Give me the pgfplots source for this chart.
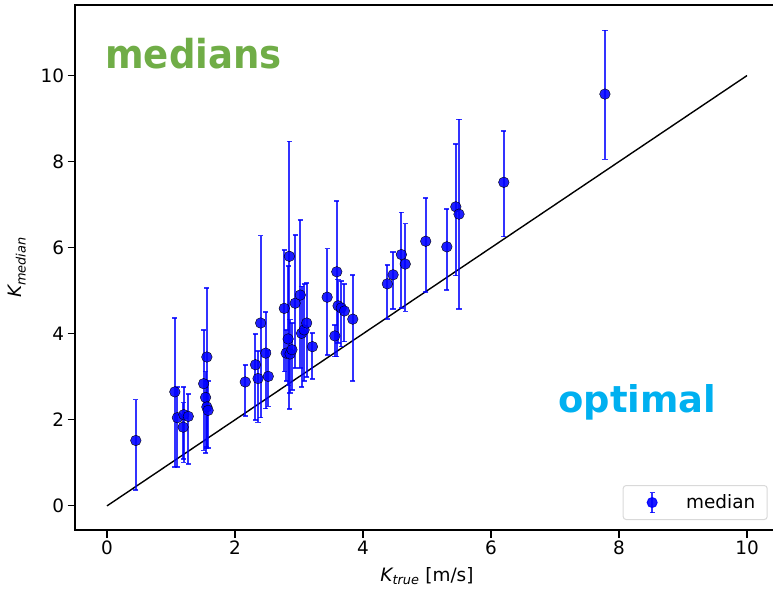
\documentclass[border=0pt]{standalone}
\usepackage{pgfplots}
\pgfplotsset{compat=1.18}
\usepackage{pgfplotstable}
\usepackage{fontspec}
\setmainfont{DejaVu Sans}
\newfontfamily\annfont{DejaVu Sans}[BoldFont={DejaVu Sans Bold}]
\newfontfamily\condfont{DejaVu Sans}[BoldFont={DejaVu Sans Bold}, BoldFeatures={FakeStretch=0.93}]
\definecolor{medgreen}{HTML}{70AD47}
\definecolor{optcyan}{HTML}{00B0F0}
\definecolor{mplblue}{RGB}{0,0,255}

\pgfplotstableread{
x y ep em
0.45 1.52 0.95 1.15
1.06 2.65 1.72 1.74
1.10 2.05 0.71 1.15
1.19 1.83 0.57 0.74
1.20 2.12 0.64 1.11
1.27 2.08 0.52 1.10
1.51 2.84 1.25 1.55
1.54 2.52 0.60 1.29
1.56 3.46 1.60 2.13
1.56 2.30 0.60 0.93
1.58 2.22 0.68 0.87
2.16 2.88 0.40 0.79
2.32 3.28 0.72 1.28
2.36 2.96 0.64 1.02
2.40 4.25 2.03 2.20
2.48 3.55 0.95 1.29
2.52 3.01 0.60 0.70
2.77 4.59 1.36 1.47
2.85 5.80 2.67 3.55
2.83 3.88 1.69 1.08
2.80 3.55 0.54 0.65
2.86 3.53 0.80 0.90
2.89 3.63 0.62 0.93
2.94 4.71 1.59 1.50
3.02 4.90 1.75 1.70
3.04 4.01 1.09 1.25
3.08 4.09 1.07 1.19
3.12 4.25 0.93 1.25
3.21 3.70 0.32 0.75
3.44 4.85 1.13 1.34
3.56 3.95 0.25 0.48
3.59 5.44 1.64 1.97
3.61 4.65 0.61 0.87
3.66 4.60 0.62 0.90
3.71 4.53 0.63 0.71
3.84 4.34 1.03 1.44
4.38 5.16 0.44 0.82
4.47 5.37 0.53 0.79
4.60 5.84 0.98 1.24
4.66 5.62 0.94 1.10
4.98 6.15 1.01 1.18
5.31 6.02 0.88 1.00
5.45 6.95 1.46 1.60
5.50 6.78 2.20 2.21
6.20 7.52 1.19 1.26
7.78 9.57 1.48 1.52
}\data

\begin{document}
\begin{tikzpicture}
\begin{axis}[
  scale only axis,
  width=704bp, height=525bp,
  xmin=-0.5, xmax=10.5,
  ymin=-0.56, ymax=11.64,
  xtick={0,2,4,6,8,10},
  ytick={0,2,4,6,8,10},
  xtick pos=bottom, ytick pos=left,
  tick align=outside,
  major tick length=7.5bp,
  every tick/.style={black, line width=1.1bp},
  axis line style={black, line width=1.3bp},
  /pgf/number format/assume math mode=true,
  tick label style={font=\fontsize{18.5}{22}\selectfont},
  label style={font=\fontsize{18.5}{22}\selectfont},
  xlabel={{\itshape K}\textsubscript{\itshape true} [m/s]},
  ylabel={{\itshape K}\textsubscript{\itshape median}},
  xlabel style={yshift=-6bp},
  ylabel style={yshift=8bp},
  legend style={
    at={(0.984,0.019)}, anchor=south east,
    draw=black!15, line width=1bp, rounded corners=3bp,
    font=\fontsize{18.5}{22}\selectfont,
    inner xsep=0bp, inner ysep=0bp,
    cells={anchor=west},
  },
  legend image code/.code={
    \path[draw=none, fill=none] (0bp,-17bp) rectangle (61bp,17bp);
    \draw[mplblue, opacity=0.8, line width=1.8bp] (29bp,-10bp) -- (29bp,10bp);
    \draw[mplblue, opacity=0.8, line width=1.6bp] (26.5bp,-10bp) -- (31.5bp,-10bp);
    \draw[mplblue, opacity=0.8, line width=1.6bp] (26.5bp,10bp) -- (31.5bp,10bp);
    \fill[mplblue, opacity=0.9] (29bp,0) circle (5bp);
  },
]
\addplot[black, line width=1.4bp, forget plot] coordinates {(0,0) (10,10)};
\addplot[
  only marks,
  mark=*,
  mark size=5.3bp,
  mark options={draw=none, fill=mplblue, fill opacity=0.88},
  error bars/.cd,
    y dir=both, y explicit,
    error bar style={draw=mplblue, draw opacity=0.8, line width=2bp},
    error mark options={draw=mplblue, draw opacity=0.8, line width=1.6bp, mark size=2.6bp, rotate=90},
] table[x=x, y=y, y error plus=ep, y error minus=em] {\data};
\addlegendentry{median\hspace*{10bp}}
\node[anchor=base west, font=\condfont\bfseries\fontsize{40}{44}\selectfont, text=medgreen, inner sep=0pt]
  at (axis cs:-0.03,10.16) {medians};
\node[anchor=base west, font=\annfont\bfseries\fontsize{37}{40}\selectfont, text=optcyan, inner sep=0pt]
  at (axis cs:7.05,2.16) {optimal};
\coordinate (SW) at (rel axis cs:0,0);
\end{axis}
\pgfresetboundingbox
\path ([shift={(-75bp,-65bp)}]SW) rectangle ([shift={(698bp,530bp)}]SW);
\end{tikzpicture}
\end{document}
